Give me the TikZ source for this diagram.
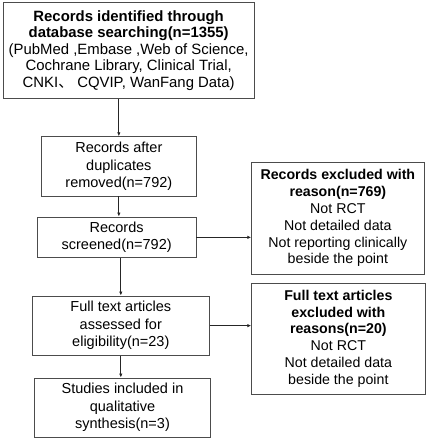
\documentclass[tikz,border=0pt]{standalone}
\usepackage{fontspec}
\setmainfont{Liberation Sans}
\newfontfamily\cjk{Noto Sans CJK SC}
\usetikzlibrary{arrows.meta}
\begin{document}
\begin{tikzpicture}[x=1pt,y=-1pt,
  box/.style={draw=black!70, line width=0.9pt, inner sep=0pt, align=center,
    font=\fontsize{14.5}{17.5}\selectfont},
  rbox/.style={box, font=\fontsize{14.2}{16.8}\selectfont},
  arr/.style={draw=black!85, line width=0.8pt, -{Latex[length=4pt,width=3.5pt]}}]
\useasboundingbox (0,0) rectangle (427,440);
\node[box, minimum width=250.7pt, minimum height=96.7pt,
  font=\fontsize{14.9}{16.5}\selectfont] (b1) at (128.65,50.35)
  {\textbf{Records identified through}\\\textbf{database searching(n=1355)}\\
   (PubMed ,Embase ,Web of Science,\\Cochrane Library, Clinical Trial,\\
   CNKI{\cjk 、} CQVIP, WanFang Data)};
\node[box, minimum width=154.3pt, minimum height=59.3pt] (b2) at (118.85,166.35)
  {Records after\\duplicates\\removed(n=792)};
\node[box, minimum width=158.7pt, minimum height=40.7pt] (b3) at (116.65,237.35)
  {Records\\screened(n=792)};
\node[box, minimum width=177pt, minimum height=59.3pt] (b4) at (120.8,325.65)
  {Full text articles\\assessed for\\eligibility(n=23)};
\node[box, minimum width=176.4pt, minimum height=59.3pt] (b5) at (122.5,407.65)
  {Studies included in\\qualitative\\synthesis(n=3)};
\node[rbox, minimum width=172.3pt, minimum height=112.3pt] (r1) at (337.85,218.15)
  {\textbf{Records excluded with}\\\textbf{reason(n=769)}\\Not RCT\\Not detailed data\\
   Not reporting clinically\\beside the point};
\node[rbox, minimum width=173.3pt, minimum height=111.3pt] (r2) at (338.35,338.65)
  {\textbf{Full text articles}\\\textbf{excluded with}\\\textbf{reasons(n=20)}\\Not RCT\\
   Not detailed data\\beside the point};
\draw[arr] (b1.south -| b2.north) -- (b2.north);
\draw[arr] (b2.south) -- (b2.south |- b3.north);
\draw[arr] (b3.south -| b4.north) -- (b4.north);
\draw[arr] (b4.south) -- (b4.south |- b5.north);
\draw[arr] (b3.east) -- (b3.east -| r1.west);
\draw[arr] (b4.east) -- (b4.east -| r2.west);
\end{tikzpicture}
\end{document}
